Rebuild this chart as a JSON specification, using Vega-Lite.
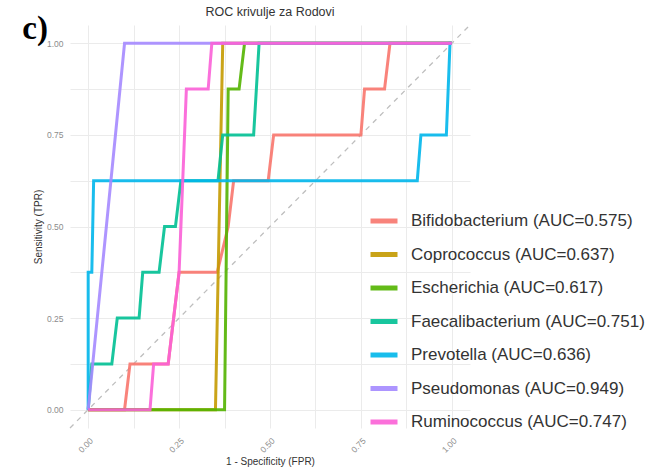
{
  "$schema": "https://vega.github.io/schema/vega-lite/v6.json",
  "width": 400,
  "height": 403,
  "autosize": {"type": "none"},
  "padding": {"left": 70, "top": 25, "right": 192, "bottom": 42},
  "background": "white",
  "config": {
    "view": {"stroke": null},
    "font": "Liberation Sans"
  },
  "title": {
    "text": "ROC krivulje za Rodovi",
    "fontSize": 12.5,
    "fontWeight": "normal",
    "color": "#333333",
    "offset": 9,
    "dy": 14,
    "font": "Liberation Sans"
  },
  "datasets": {
    "roc": [
      {"s": "Bifidobacterium (AUC=0.575)", "i": 0, "fpr": 0, "tpr": 0},
      {"s": "Bifidobacterium (AUC=0.575)", "i": 1, "fpr": 0.10, "tpr": 0},
      {"s": "Bifidobacterium (AUC=0.575)", "i": 2, "fpr": 0.115, "tpr": 0.125},
      {"s": "Bifidobacterium (AUC=0.575)", "i": 3, "fpr": 0.22, "tpr": 0.125},
      {"s": "Bifidobacterium (AUC=0.575)", "i": 4, "fpr": 0.25, "tpr": 0.375},
      {"s": "Bifidobacterium (AUC=0.575)", "i": 5, "fpr": 0.355, "tpr": 0.375},
      {"s": "Bifidobacterium (AUC=0.575)", "i": 6, "fpr": 0.385, "tpr": 0.5},
      {"s": "Bifidobacterium (AUC=0.575)", "i": 7, "fpr": 0.40, "tpr": 0.625},
      {"s": "Bifidobacterium (AUC=0.575)", "i": 8, "fpr": 0.495, "tpr": 0.625},
      {"s": "Bifidobacterium (AUC=0.575)", "i": 9, "fpr": 0.51, "tpr": 0.75},
      {"s": "Bifidobacterium (AUC=0.575)", "i": 10, "fpr": 0.75, "tpr": 0.75},
      {"s": "Bifidobacterium (AUC=0.575)", "i": 11, "fpr": 0.76, "tpr": 0.875},
      {"s": "Bifidobacterium (AUC=0.575)", "i": 12, "fpr": 0.815, "tpr": 0.875},
      {"s": "Bifidobacterium (AUC=0.575)", "i": 13, "fpr": 0.83, "tpr": 1},
      {"s": "Bifidobacterium (AUC=0.575)", "i": 14, "fpr": 1, "tpr": 1},
      {"s": "Coprococcus (AUC=0.637)", "i": 0, "fpr": 0, "tpr": 0},
      {"s": "Coprococcus (AUC=0.637)", "i": 1, "fpr": 0.35, "tpr": 0},
      {"s": "Coprococcus (AUC=0.637)", "i": 2, "fpr": 0.37, "tpr": 1},
      {"s": "Coprococcus (AUC=0.637)", "i": 3, "fpr": 1, "tpr": 1},
      {"s": "Escherichia (AUC=0.617)", "i": 0, "fpr": 0, "tpr": 0},
      {"s": "Escherichia (AUC=0.617)", "i": 1, "fpr": 0.375, "tpr": 0},
      {"s": "Escherichia (AUC=0.617)", "i": 2, "fpr": 0.385, "tpr": 0.875},
      {"s": "Escherichia (AUC=0.617)", "i": 3, "fpr": 0.415, "tpr": 0.875},
      {"s": "Escherichia (AUC=0.617)", "i": 4, "fpr": 0.43, "tpr": 1},
      {"s": "Escherichia (AUC=0.617)", "i": 5, "fpr": 1, "tpr": 1},
      {"s": "Faecalibacterium (AUC=0.751)", "i": 0, "fpr": 0, "tpr": 0},
      {"s": "Faecalibacterium (AUC=0.751)", "i": 1, "fpr": 0.01, "tpr": 0.125},
      {"s": "Faecalibacterium (AUC=0.751)", "i": 2, "fpr": 0.065, "tpr": 0.125},
      {"s": "Faecalibacterium (AUC=0.751)", "i": 3, "fpr": 0.08, "tpr": 0.25},
      {"s": "Faecalibacterium (AUC=0.751)", "i": 4, "fpr": 0.14, "tpr": 0.25},
      {"s": "Faecalibacterium (AUC=0.751)", "i": 5, "fpr": 0.15, "tpr": 0.375},
      {"s": "Faecalibacterium (AUC=0.751)", "i": 6, "fpr": 0.195, "tpr": 0.375},
      {"s": "Faecalibacterium (AUC=0.751)", "i": 7, "fpr": 0.21, "tpr": 0.5},
      {"s": "Faecalibacterium (AUC=0.751)", "i": 8, "fpr": 0.24, "tpr": 0.5},
      {"s": "Faecalibacterium (AUC=0.751)", "i": 9, "fpr": 0.255, "tpr": 0.625},
      {"s": "Faecalibacterium (AUC=0.751)", "i": 10, "fpr": 0.357, "tpr": 0.625},
      {"s": "Faecalibacterium (AUC=0.751)", "i": 11, "fpr": 0.37, "tpr": 0.75},
      {"s": "Faecalibacterium (AUC=0.751)", "i": 12, "fpr": 0.455, "tpr": 0.75},
      {"s": "Faecalibacterium (AUC=0.751)", "i": 13, "fpr": 0.47, "tpr": 1},
      {"s": "Faecalibacterium (AUC=0.751)", "i": 14, "fpr": 1, "tpr": 1},
      {"s": "Prevotella (AUC=0.636)", "i": 0, "fpr": 0, "tpr": 0},
      {"s": "Prevotella (AUC=0.636)", "i": 1, "fpr": 0, "tpr": 0.375},
      {"s": "Prevotella (AUC=0.636)", "i": 2, "fpr": 0.01, "tpr": 0.375},
      {"s": "Prevotella (AUC=0.636)", "i": 3, "fpr": 0.015, "tpr": 0.625},
      {"s": "Prevotella (AUC=0.636)", "i": 4, "fpr": 0.905, "tpr": 0.625},
      {"s": "Prevotella (AUC=0.636)", "i": 5, "fpr": 0.915, "tpr": 0.75},
      {"s": "Prevotella (AUC=0.636)", "i": 6, "fpr": 0.985, "tpr": 0.75},
      {"s": "Prevotella (AUC=0.636)", "i": 7, "fpr": 0.995, "tpr": 1},
      {"s": "Prevotella (AUC=0.636)", "i": 8, "fpr": 1, "tpr": 1},
      {"s": "Pseudomonas (AUC=0.949)", "i": 0, "fpr": 0, "tpr": 0},
      {"s": "Pseudomonas (AUC=0.949)", "i": 1, "fpr": 0.10, "tpr": 1},
      {"s": "Pseudomonas (AUC=0.949)", "i": 2, "fpr": 1, "tpr": 1},
      {"s": "Ruminococcus (AUC=0.747)", "i": 0, "fpr": 0, "tpr": 0},
      {"s": "Ruminococcus (AUC=0.747)", "i": 1, "fpr": 0.17, "tpr": 0},
      {"s": "Ruminococcus (AUC=0.747)", "i": 2, "fpr": 0.18, "tpr": 0.125},
      {"s": "Ruminococcus (AUC=0.747)", "i": 3, "fpr": 0.22, "tpr": 0.125},
      {"s": "Ruminococcus (AUC=0.747)", "i": 4, "fpr": 0.235, "tpr": 0.25},
      {"s": "Ruminococcus (AUC=0.747)", "i": 5, "fpr": 0.25, "tpr": 0.375},
      {"s": "Ruminococcus (AUC=0.747)", "i": 6, "fpr": 0.255, "tpr": 0.5},
      {"s": "Ruminococcus (AUC=0.747)", "i": 7, "fpr": 0.27, "tpr": 0.875},
      {"s": "Ruminococcus (AUC=0.747)", "i": 8, "fpr": 0.33, "tpr": 0.875},
      {"s": "Ruminococcus (AUC=0.747)", "i": 9, "fpr": 0.34, "tpr": 1},
      {"s": "Ruminococcus (AUC=0.747)", "i": 10, "fpr": 1, "tpr": 1}
    ],
    "diag": [
      {"fpr": -0.05, "tpr": -0.05},
      {"fpr": 1.05, "tpr": 1.05}
    ],
    "tag": [
      {"fpr": -0.181, "tpr": 1.011, "label": "c)"}
    ]
  },
  "layer": [
    {
      "data": {"name": "diag"},
      "mark": {"type": "line", "color": "#BEBEBE", "strokeWidth": 1.3, "strokeDash": [5, 5]},
      "encoding": {
        "x": {
          "field": "fpr", "type": "quantitative",
          "scale": {"domain": [-0.05, 1.05], "nice": false, "zero": false},
          "axis": {
            "title": "1 - Specificity (FPR)",
            "values": [0, 0.125, 0.25, 0.375, 0.5, 0.625, 0.75, 0.875, 1],
            "labelExpr": "(datum.value*8)%2==0 ? format(datum.value, '.2f') : ''",
            "labelAngle": -45,
            "labelFontSize": 8.5,
            "labelColor": "#8C8C8C",
            "labelPadding": 8,
            "ticks": false,
            "domain": false,
            "grid": true,
            "gridColor": "#EBEBEB",
            "gridWidth": 1,
            "titleFontSize": 10,
            "titleFontWeight": "normal",
            "titleColor": "#333333",
            "titlePadding": 3
          }
        },
        "y": {
          "field": "tpr", "type": "quantitative",
          "scale": {"domain": [-0.05, 1.05], "nice": false, "zero": false},
          "axis": {
            "title": "Sensitivity (TPR)",
            "values": [0, 0.125, 0.25, 0.375, 0.5, 0.625, 0.75, 0.875, 1],
            "labelExpr": "(datum.value*8)%2==0 ? format(datum.value, '.2f') : ''",
            "labelFontSize": 8.5,
            "labelColor": "#8C8C8C",
            "labelPadding": 7,
            "ticks": false,
            "domain": false,
            "grid": true,
            "gridColor": "#EBEBEB",
            "gridWidth": 1,
            "titleFontSize": 10,
            "titleFontWeight": "normal",
            "titleColor": "#333333",
            "titlePadding": 3
          }
        }
      }
    },
    {
      "data": {"name": "roc"},
      "mark": {"type": "line", "strokeWidth": 3, "opacity": 0.9},
      "encoding": {
        "x": {"field": "fpr", "type": "quantitative"},
        "y": {"field": "tpr", "type": "quantitative"},
        "order": {"field": "i", "type": "quantitative"},
        "color": {
          "field": "s", "type": "nominal",
          "scale": {
            "domain": ["Bifidobacterium (AUC=0.575)", "Coprococcus (AUC=0.637)", "Escherichia (AUC=0.617)", "Faecalibacterium (AUC=0.751)", "Prevotella (AUC=0.636)", "Pseudomonas (AUC=0.949)", "Ruminococcus (AUC=0.747)"],
            "range": ["#F8766D", "#C49A00", "#53B400", "#00C094", "#00B6EB", "#A58AFF", "#FB61D7"]
          },
          "legend": {
            "title": null,
            "orient": "none",
            "legendX": 298,
            "legendY": 180,
            "symbolType": "stroke",
            "symbolSize": 729,
            "symbolStrokeWidth": 5,
            "labelFontSize": 17,
            "labelColor": "#333333",
            "labelOffset": 11,
            "rowPadding": 7.5,
            "labelLimit": 400
          }
        }
      }
    },
    {
      "data": {"name": "tag"},
      "mark": {"type": "text", "font": "Liberation Serif", "fontWeight": "bold", "fontSize": 33, "align": "left", "baseline": "alphabetic", "color": "#000000"},
      "encoding": {
        "x": {"field": "fpr", "type": "quantitative"},
        "y": {"field": "tpr", "type": "quantitative"},
        "text": {"field": "label", "type": "nominal"}
      }
    }
  ]
}
